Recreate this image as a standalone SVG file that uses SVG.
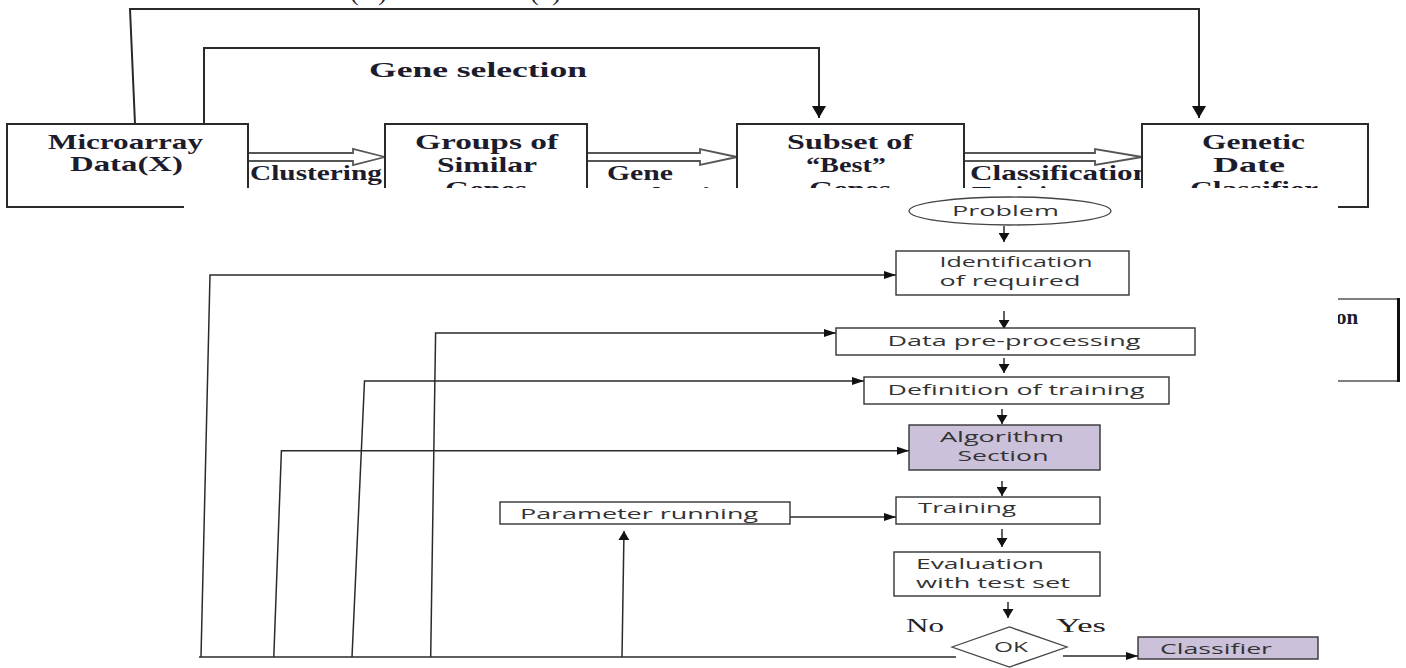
<svg xmlns="http://www.w3.org/2000/svg" width="1406" height="668" viewBox="0 0 1406 668">
<style>
.t{font-family:"Liberation Serif","Times New Roman",serif;font-weight:bold;font-size:21px;fill:#1c1c2c}
.f{font-family:"Liberation Serif","Times New Roman",serif;font-size:26px;fill:#222}
.box{fill:#fff;stroke:#2a2a2a;stroke-width:2}
.ln{fill:none;stroke:#2a2a2a;stroke-width:2}
.hol{fill:#fff;stroke:#555;stroke-width:1.8}
.s{font-family:"Open Sans","Noto Sans",sans-serif;font-size:14px;fill:#333}
.bx{fill:#fff;stroke:#333;stroke-width:1.4}
.pu{fill:#cbc1da;stroke:#333;stroke-width:1.4}
.c{fill:none;stroke:#2a2a2a;stroke-width:1.5}
.n{font-family:"Liberation Serif","Times New Roman",serif;font-size:19px;fill:#222}
</style>
<defs>
<marker id="big" markerWidth="12" markerHeight="14" refX="12" refY="7" orient="auto" markerUnits="userSpaceOnUse"><path d="M0,0 L12,7 L0,14 z" fill="#111"/></marker>
<marker id="dn" markerWidth="9" markerHeight="11" refX="9" refY="5.5" orient="auto" markerUnits="userSpaceOnUse"><path d="M0,0 L9,5.5 L0,11 z" fill="#111"/></marker>
<marker id="rt" markerWidth="12" markerHeight="8" refX="12" refY="4" orient="auto" markerUnits="userSpaceOnUse"><path d="M0,0 L12,4 L0,8 z" fill="#111"/></marker>
</defs>

<g id="top-fragments">
<text class="f" x="350" y="0" textLength="37" lengthAdjust="spacing">( )</text>
<text class="f" x="530" y="0" textLength="31" lengthAdjust="spacing">( )</text>
</g>

<g id="top-connectors">
<path class="ln" d="M135,124 L130,9 L1199,9 L1199,118" marker-end="url(#big)"/>
<path class="ln" d="M204,124 L204,48 L819,48 L819,118" marker-end="url(#big)"/>
<polygon class="hol" points="248,153 353,153 353,149 385,157 353,165 353,161 248,161"/>
<polygon class="hol" points="587,153 700,153 700,149 737,157 700,165 700,161 587,161"/>
<polygon class="hol" points="964,153 1095,153 1095,149 1142,157 1095,165 1095,161 964,161"/>
<text class="t" x="369" y="77" textLength="218" lengthAdjust="spacingAndGlyphs">Gene selection</text>
<text class="t" x="250" y="180" font-size="20" textLength="132" lengthAdjust="spacingAndGlyphs">Clustering</text>
<text class="t" x="607" y="180" font-size="20" textLength="66" lengthAdjust="spacingAndGlyphs">Gene</text>
<text class="t" x="620" y="202" font-size="20" textLength="125" lengthAdjust="spacingAndGlyphs">Selection</text>
<text class="t" x="970" y="180" font-size="20" textLength="180" lengthAdjust="spacingAndGlyphs">Classification</text>
<text class="t" x="972" y="201" font-size="20" textLength="105" lengthAdjust="spacingAndGlyphs">Training</text>
</g>

<g id="microarray">
<rect class="box" x="7" y="124" width="241" height="83"/>
<text class="t" x="125.5" y="149" text-anchor="middle" textLength="155" lengthAdjust="spacingAndGlyphs">Microarray</text>
<text class="t" x="126.5" y="171" text-anchor="middle" textLength="113" lengthAdjust="spacingAndGlyphs">Data(X)</text>
</g>
<g id="groups">
<rect class="box" x="385" y="124" width="202" height="83"/>
<text class="t" x="486.5" y="149" text-anchor="middle" textLength="143" lengthAdjust="spacingAndGlyphs">Groups of</text>
<text class="t" x="487" y="172" text-anchor="middle" textLength="100" lengthAdjust="spacingAndGlyphs">Similar</text>
<text class="t" x="486" y="196" text-anchor="middle" textLength="82" lengthAdjust="spacingAndGlyphs">Genes</text>
</g>
<g id="subset">
<rect class="box" x="737" y="124" width="227" height="83"/>
<text class="t" x="850" y="149" text-anchor="middle" textLength="126" lengthAdjust="spacingAndGlyphs">Subset of</text>
<text class="t" x="846" y="172" text-anchor="middle" textLength="80" lengthAdjust="spacingAndGlyphs">“Best”</text>
<text class="t" x="850" y="196" text-anchor="middle" textLength="82" lengthAdjust="spacingAndGlyphs">Genes</text>
</g>
<g id="genetic">
<rect class="box" x="1142" y="124" width="226" height="83"/>
<text class="t" x="1253.5" y="149" text-anchor="middle" textLength="103" lengthAdjust="spacingAndGlyphs">Genetic</text>
<text class="t" x="1249" y="172" text-anchor="middle" textLength="72" lengthAdjust="spacingAndGlyphs">Date</text>
<text class="t" x="1254" y="196" text-anchor="middle" textLength="128" lengthAdjust="spacingAndGlyphs">Classifier</text>
</g>
<g id="partial-box">
<rect x="1240" y="299" width="158" height="82" fill="#fff" stroke="#555" stroke-width="1.5"/>
<line x1="1398.5" y1="298" x2="1398.5" y2="382" stroke="#111" stroke-width="3"/>
<text class="t" x="1336" y="324" font-size="21">on</text>
</g>

<rect id="overlay" x="184" y="188" width="1154" height="480" fill="#fff"/>

<g id="flow-connectors">
<line class="c" x1="1004" y1="226" x2="1004" y2="242" marker-end="url(#dn)"/>
<line class="c" x1="1004" y1="311" x2="1004" y2="329" marker-end="url(#dn)"/>
<line class="c" x1="1004" y1="358" x2="1004" y2="373" marker-end="url(#dn)"/>
<line class="c" x1="1002" y1="409" x2="1002" y2="424" marker-end="url(#dn)"/>
<line class="c" x1="1002" y1="481" x2="1002" y2="496" marker-end="url(#dn)"/>
<line class="c" x1="1002" y1="529" x2="1002" y2="547" marker-end="url(#dn)"/>
<line class="c" x1="1008" y1="602" x2="1008" y2="618" marker-end="url(#dn)"/>
<path class="c" d="M201,657 L210,275 L896,275" marker-end="url(#rt)"/>
<path class="c" d="M430.7,657 L435.6,333 L836,333" marker-end="url(#rt)"/>
<path class="c" d="M352,657 L364.5,381 L864,381" marker-end="url(#rt)"/>
<path class="c" d="M273.8,657 L281.4,450.7 L909,450.7" marker-end="url(#rt)"/>
<line class="c" x1="790" y1="517" x2="896" y2="517" marker-end="url(#rt)"/>
<line class="c" x1="622" y1="657" x2="624" y2="531" marker-end="url(#dn)"/>
<line class="c" x1="199" y1="657" x2="956" y2="657"/>
<line class="c" x1="1063" y1="656" x2="1138" y2="656" marker-end="url(#rt)"/>
<text class="n" x="906" y="632" textLength="38" lengthAdjust="spacingAndGlyphs">No</text>
<text class="n" x="1056" y="632" textLength="50" lengthAdjust="spacingAndGlyphs">Yes</text>
</g>

<g id="problem">
<ellipse cx="1010" cy="211" rx="101" ry="14" fill="#fff" stroke="#444" stroke-width="1.3"/>
<text class="s" x="1005.5" y="216" text-anchor="middle" textLength="107" lengthAdjust="spacingAndGlyphs">Problem</text>
</g>
<g id="identification">
<rect class="bx" x="896" y="251" width="233" height="44"/>
<text class="s" x="1016" y="267" text-anchor="middle" textLength="153" lengthAdjust="spacingAndGlyphs">Identification</text>
<text class="s" x="1010" y="286" text-anchor="middle" textLength="141" lengthAdjust="spacingAndGlyphs">of required</text>
</g>
<g id="preprocessing">
<rect class="bx" x="836" y="328" width="359" height="27"/>
<text class="s" x="1014" y="346" text-anchor="middle" textLength="253" lengthAdjust="spacingAndGlyphs">Data pre-processing</text>
</g>
<g id="definition">
<rect class="bx" x="864" y="377" width="305" height="27"/>
<text class="s" x="1016" y="395" text-anchor="middle" textLength="257" lengthAdjust="spacingAndGlyphs">Definition of training</text>
</g>
<g id="algorithm">
<rect class="pu" x="909" y="425" width="191" height="45"/>
<text class="s" x="1002" y="442" text-anchor="middle" textLength="124" lengthAdjust="spacingAndGlyphs">Algorithm</text>
<text class="s" x="1003" y="461" text-anchor="middle" textLength="91" lengthAdjust="spacingAndGlyphs">Section</text>
</g>
<g id="parameter">
<rect class="bx" x="500" y="502" width="290" height="22"/>
<text class="s" x="520" y="519" textLength="238" lengthAdjust="spacingAndGlyphs">Parameter running</text>
</g>
<g id="training">
<rect class="bx" x="896" y="497" width="204" height="27"/>
<text class="s" x="918" y="513" textLength="98" lengthAdjust="spacingAndGlyphs">Training</text>
</g>
<g id="evaluation">
<rect class="bx" x="894" y="552" width="206" height="44"/>
<text class="s" x="916" y="569" textLength="128" lengthAdjust="spacingAndGlyphs">Evaluation</text>
<text class="s" x="916" y="588" textLength="154" lengthAdjust="spacingAndGlyphs">with test set</text>
</g>
<g id="ok">
<polygon points="952,647 1009.5,627 1067,647 1009.5,667" fill="#fff" stroke="#444" stroke-width="1.3"/>
<text class="s" x="1011" y="652" font-size="13" text-anchor="middle" textLength="34" lengthAdjust="spacingAndGlyphs">OK</text>
</g>
<g id="classifier">
<rect class="pu" x="1138" y="637" width="180" height="22"/>
<text class="s" x="1160" y="654" textLength="112" lengthAdjust="spacingAndGlyphs">Classifier</text>
</g>
</svg>
